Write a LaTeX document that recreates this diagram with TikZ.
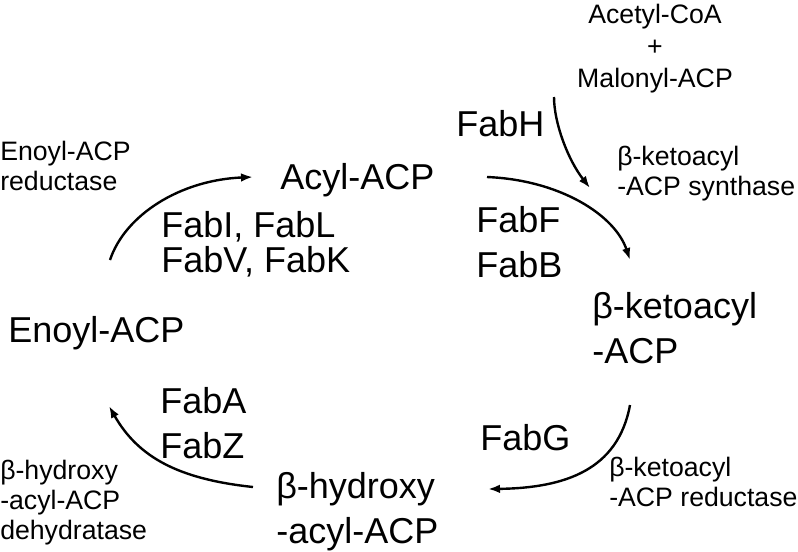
\documentclass[tikz,border=0pt]{standalone}
\usepackage{fontspec}
\setmainfont{Liberation Sans}
\usetikzlibrary{arrows.meta}
\begin{document}
\begin{tikzpicture}[x=0.75pt,y=-0.75pt,
  small/.style={font=\fontsize{20}{22.5}\selectfont, inner sep=0pt, align=left},
  big/.style={font=\fontsize{27}{33.75}\selectfont, inner sep=0pt, align=left},
  arr/.style={line width=1.8pt, -{Latex[length=9pt,width=6.5pt]}}]
\useasboundingbox (0,0) rectangle (798,551);

% small enzyme-class labels
\node[small, align=center, anchor=base, font=\fontsize{20}{24}\selectfont] (sub) at (655,87.3) {Acetyl-CoA\\+\\Malonyl-ACP};
\node[small, anchor=base west] (ksyn) at (617,195) {β-ketoacyl\\-ACP synthase};
\node[small, anchor=base west] (enr) at (0,190) {Enoyl-ACP\\reductase};
\node[small, anchor=base west] (kred) at (609,506.7) {β-ketoacyl\\-ACP reductase};
\node[small, anchor=base west] (dehyd) at (0,539) {β-hydroxy\\-acyl-ACP\\dehydratase};

% big labels
\node[big, anchor=base west] (acyl) at (280,189.3) {Acyl-ACP};
\node[big, anchor=base west, font=\fontsize{27}{26.25}\selectfont] (fabi) at (161,272.7) {FabI, FabL\\FabV, FabK};
\node[big, anchor=base west] (fabh) at (456,136.7) {FabH};
\node[big, anchor=base west] (fabf) at (476,277.3) {FabF\\FabB};
\node[big, anchor=base west] (keto) at (592,363.3) {β-ketoacyl\\-ACP};
\node[big, anchor=base west] (enoyl) at (8,342) {Enoyl-ACP};
\node[big, anchor=base west] (faba) at (160,458.3) {FabA\\FabZ};
\node[big, anchor=base west] (fabg) at (480,450) {FabG};
\node[big, anchor=base west] (hyd) at (276,543) {β-hydroxy\\-acyl-ACP};

% arrow ends
\coordinate (e1s) at (110,260);  \coordinate (e1e) at (253,177);
\coordinate (e2s) at (487,177);  \coordinate (e2e) at (630,260);
\coordinate (e3s) at (554,97);   \coordinate (e3e) at (590,188);
\coordinate (e4s) at (630,405);  \coordinate (e4e) at (488,489);
\coordinate (e5s) at (253,487);  \coordinate (e5e) at (109,406);

\draw[arr] (e1s) .. controls (125,215) and (180,180) .. (e1e);
\draw[arr] (e2s) .. controls (560,180) and (615,215) .. (e2e);
\draw[arr] (e3s) .. controls (554,123) and (568,160) .. (e3e);
\draw[arr] (e4s) .. controls (618,470) and (565,488) .. (e4e);
\draw[arr] (e5s) .. controls (178,479) and (138,457) .. (e5e);
\end{tikzpicture}
\end{document}
